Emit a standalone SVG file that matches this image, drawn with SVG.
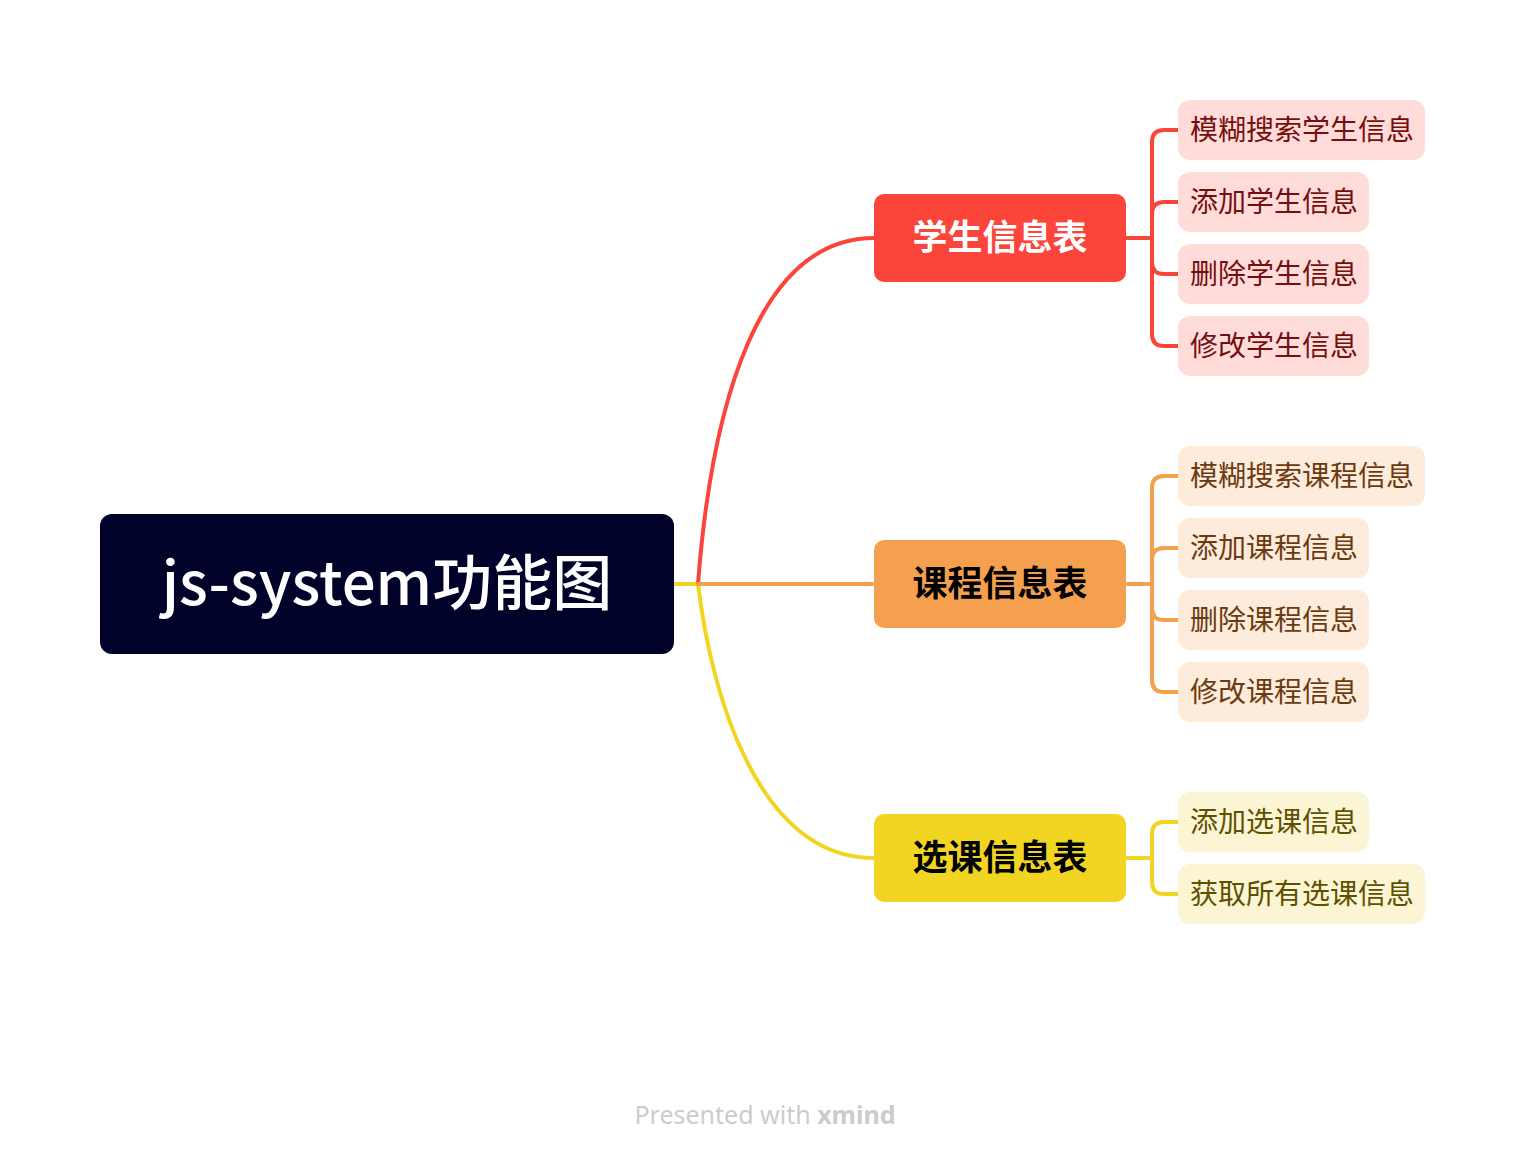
<svg xmlns="http://www.w3.org/2000/svg" width="1526" height="1164" viewBox="0 0 1526 1164">
<style>
.cjk{font-family:"Noto Sans CJK SC","Noto Sans",sans-serif}
.root{font-size:60px;font-weight:500;fill:#ffffff}
.br{font-size:35px;font-weight:bold}
.lf{font-size:28px}
.conn{fill:none;stroke-width:4;stroke-linecap:round}
</style>
<rect width="1526" height="1164" fill="#ffffff"/>
<g id="connectors">
<path class="conn" stroke="#F2D422" d="M674,584 H698 C712,700 760,858 874,858"/>
<path class="conn" stroke="#FB453B" d="M698,584 C712,400 760,238 874,238"/>
<path class="conn" stroke="#F5A04E" d="M698,584 H874"/>
<path class="conn" stroke="#FB453B" d="M1126,238 H1152 M1178,130 H1164 Q1152,130 1152,142 V334 Q1152,346 1164,346 H1178 M1178,202 H1164 Q1152,202 1152,214 M1178,274 H1164 Q1152,274 1152,262"/>
<path class="conn" stroke="#F5A04E" d="M1126,584 H1152 M1178,476 H1164 Q1152,476 1152,488 V680 Q1152,692 1164,692 H1178 M1178,548 H1164 Q1152,548 1152,560 M1178,620 H1164 Q1152,620 1152,608"/>
<path class="conn" stroke="#F2D422" d="M1126,858 H1152 M1178,822 H1164 Q1152,822 1152,834 V882 Q1152,894 1164,894 H1178"/>
</g>
<g id="root">
<rect x="100" y="514" width="574" height="140" rx="12" fill="#000229"/>
<text class="cjk root" x="387" y="605" text-anchor="middle">js-system功能图</text>
</g>
<g id="b1">
<rect x="874" y="194" width="252" height="88" rx="10" fill="#FB453B"/>
<text class="cjk br" x="1000" y="250" text-anchor="middle" fill="#ffffff">学生信息表</text>
</g>
<g id="b2">
<rect x="874" y="540" width="252" height="88" rx="10" fill="#F5A04E"/>
<text class="cjk br" x="1000" y="596" text-anchor="middle" fill="#000000">课程信息表</text>
</g>
<g id="b3">
<rect x="874" y="814" width="252" height="88" rx="10" fill="#F2D422"/>
<text class="cjk br" x="1000" y="870" text-anchor="middle" fill="#000000">选课信息表</text>
</g>
<g id="l1"><rect x="1178" y="100" width="247" height="60" rx="12" fill="#FFDCDA"/><text class="cjk lf" x="1190" y="140" fill="#750E0E">模糊搜索学生信息</text></g>
<g id="l2"><rect x="1178" y="172" width="191" height="60" rx="12" fill="#FFDCDA"/><text class="cjk lf" x="1190" y="212" fill="#750E0E">添加学生信息</text></g>
<g id="l3"><rect x="1178" y="244" width="191" height="60" rx="12" fill="#FFDCDA"/><text class="cjk lf" x="1190" y="284" fill="#750E0E">删除学生信息</text></g>
<g id="l4"><rect x="1178" y="316" width="191" height="60" rx="12" fill="#FFDCDA"/><text class="cjk lf" x="1190" y="356" fill="#750E0E">修改学生信息</text></g>
<g id="l5"><rect x="1178" y="446" width="247" height="60" rx="12" fill="#FDEBDB"/><text class="cjk lf" x="1190" y="486" fill="#6B3A10">模糊搜索课程信息</text></g>
<g id="l6"><rect x="1178" y="518" width="191" height="60" rx="12" fill="#FDEBDB"/><text class="cjk lf" x="1190" y="558" fill="#6B3A10">添加课程信息</text></g>
<g id="l7"><rect x="1178" y="590" width="191" height="60" rx="12" fill="#FDEBDB"/><text class="cjk lf" x="1190" y="630" fill="#6B3A10">删除课程信息</text></g>
<g id="l8"><rect x="1178" y="662" width="191" height="60" rx="12" fill="#FDEBDB"/><text class="cjk lf" x="1190" y="702" fill="#6B3A10">修改课程信息</text></g>
<g id="l9"><rect x="1178" y="792" width="191" height="60" rx="12" fill="#FCF5D4"/><text class="cjk lf" x="1190" y="832" fill="#5E5000">添加选课信息</text></g>
<g id="l10"><rect x="1178" y="864" width="247" height="60" rx="12" fill="#FCF5D4"/><text class="cjk lf" x="1190" y="904" fill="#5E5000">获取所有选课信息</text></g>
<text x="765" y="1124" text-anchor="middle" font-family="'Noto Sans',sans-serif" font-size="25" fill="#cccccc">Presented with <tspan font-weight="bold">xmind</tspan></text>
</svg>
